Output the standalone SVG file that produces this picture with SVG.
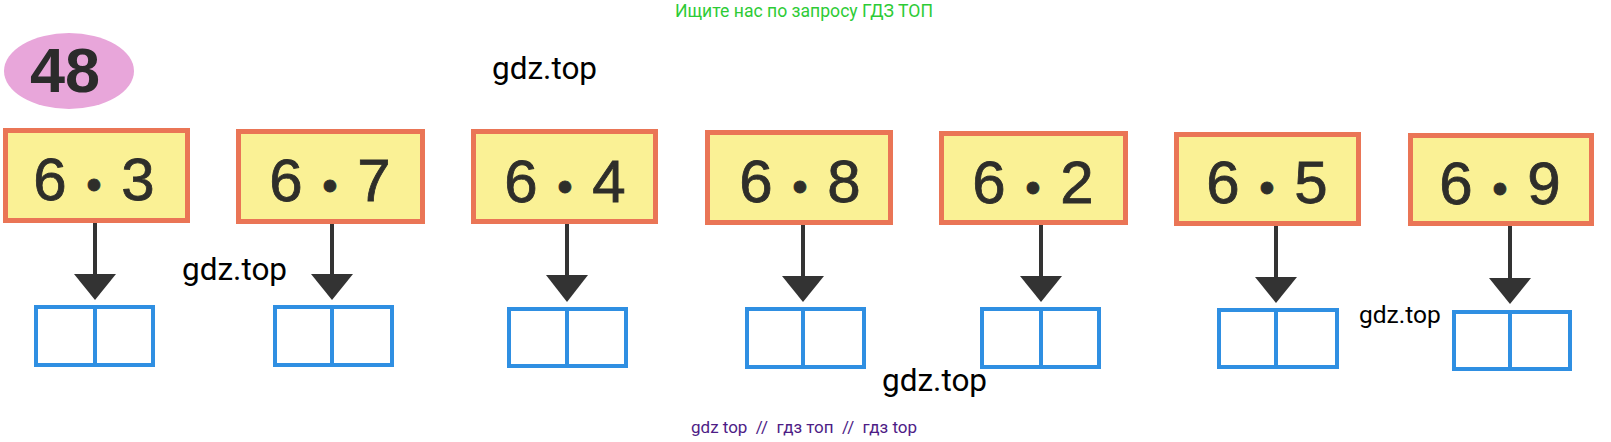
<svg xmlns="http://www.w3.org/2000/svg" width="1611" height="442" viewBox="0 0 1611 442">
<defs>
<style>
.card{fill:#FAF195;stroke:#EA7556;stroke-width:5}
.expr{font-family:"Liberation Sans",Arial,sans-serif;font-size:60px;fill:#2E2E2A;stroke:#2E2E2A;stroke-width:0.8;text-anchor:middle;word-spacing:3px}
.dot{font-size:44px}
.ans{fill:#FFFFFF;stroke:#2F8FE2;stroke-width:4}
.link{stroke:#333333;stroke-width:4;fill:none}
.head{fill:#333333}
.wm{font-family:Roboto,"Liberation Sans",sans-serif;fill:#000000}
</style>
</defs>
<rect x="0" y="0" width="1611" height="442" fill="#FFFFFF"/>
<text x="675" y="17" font-family="Roboto,'Liberation Sans',sans-serif" font-size="17.6" fill="#2DCB36">Ищите нас по запросу ГДЗ ТОП</text>
<g id="title">
<ellipse cx="69" cy="71" rx="65" ry="38" fill="#E8A6DA"/>
<text x="65" y="92" font-family="'Liberation Sans',Arial,sans-serif" font-weight="bold" font-size="63" fill="#2B2B2B" text-anchor="middle">48</text>
</g>
<g id="connectors">
<line class="link" x1="95" y1="223" x2="95" y2="276"/><polygon class="head" points="74,274 116,274 95,300"/>
<line class="link" x1="332" y1="224" x2="332" y2="276"/><polygon class="head" points="311,274 353,274 332,300"/>
<line class="link" x1="567" y1="224" x2="567" y2="277"/><polygon class="head" points="546,275 588,275 567,302"/>
<line class="link" x1="803" y1="225" x2="803" y2="278"/><polygon class="head" points="782,276 824,276 803,302"/>
<line class="link" x1="1041" y1="225" x2="1041" y2="278"/><polygon class="head" points="1020,276 1062,276 1041,302"/>
<line class="link" x1="1276" y1="226" x2="1276" y2="279"/><polygon class="head" points="1255,277 1297,277 1276,303"/>
<line class="link" x1="1510" y1="226" x2="1510" y2="280"/><polygon class="head" points="1489,278 1531,278 1510,304"/>
</g>
<g id="n1"><rect class="card" x="5.5" y="130.5" width="182" height="90"/><text class="expr" x="94" y="200">6 <tspan class="dot">•</tspan> 3</text></g>
<g id="n2"><rect class="card" x="238.5" y="131.5" width="184" height="90"/><text class="expr" x="330" y="201">6 <tspan class="dot">•</tspan> 7</text></g>
<g id="n3"><rect class="card" x="473.5" y="131.5" width="182" height="90"/><text class="expr" x="565" y="202">6 <tspan class="dot">•</tspan> 4</text></g>
<g id="n4"><rect class="card" x="707.5" y="132.5" width="183" height="90"/><text class="expr" x="800" y="202">6 <tspan class="dot">•</tspan> 8</text></g>
<g id="n5"><rect class="card" x="941.5" y="133.5" width="184" height="89"/><text class="expr" x="1033" y="203">6 <tspan class="dot">•</tspan> 2</text></g>
<g id="n6"><rect class="card" x="1176.5" y="134.5" width="182" height="89"/><text class="expr" x="1267" y="203">6 <tspan class="dot">•</tspan> 5</text></g>
<g id="n7"><rect class="card" x="1410.5" y="135.5" width="181" height="88"/><text class="expr" x="1500" y="204">6 <tspan class="dot">•</tspan> 9</text></g>
<g id="a1"><rect class="ans" x="36" y="307" width="117" height="58"/><line class="ans" x1="95" y1="307" x2="95" y2="365"/></g>
<g id="a2"><rect class="ans" x="275" y="307" width="117" height="58"/><line class="ans" x1="332" y1="307" x2="332" y2="365"/></g>
<g id="a3"><rect class="ans" x="509" y="309" width="117" height="57"/><line class="ans" x1="567" y1="309" x2="567" y2="366"/></g>
<g id="a4"><rect class="ans" x="747" y="309" width="117" height="58"/><line class="ans" x1="803" y1="309" x2="803" y2="367"/></g>
<g id="a5"><rect class="ans" x="982" y="309" width="117" height="58"/><line class="ans" x1="1041" y1="309" x2="1041" y2="367"/></g>
<g id="a6"><rect class="ans" x="1219" y="310" width="118" height="57"/><line class="ans" x1="1276" y1="310" x2="1276" y2="367"/></g>
<g id="a7"><rect class="ans" x="1454" y="312" width="116" height="57"/><line class="ans" x1="1510" y1="312" x2="1510" y2="369"/></g>
<text class="wm" x="492" y="79" font-size="31.5">gdz.top</text>
<text class="wm" x="182" y="280" font-size="31.5">gdz.top</text>
<text class="wm" x="882" y="391" font-size="31.5">gdz.top</text>
<text class="wm" x="1359" y="323" font-size="24.5">gdz.top</text>
<text x="691" y="433" font-family="Roboto,'Liberation Sans',sans-serif" font-size="17" fill="#4E1C86" style="white-space:pre" xml:space="preserve">gdz top  //  гдз топ  //  гдз top</text>
</svg>
